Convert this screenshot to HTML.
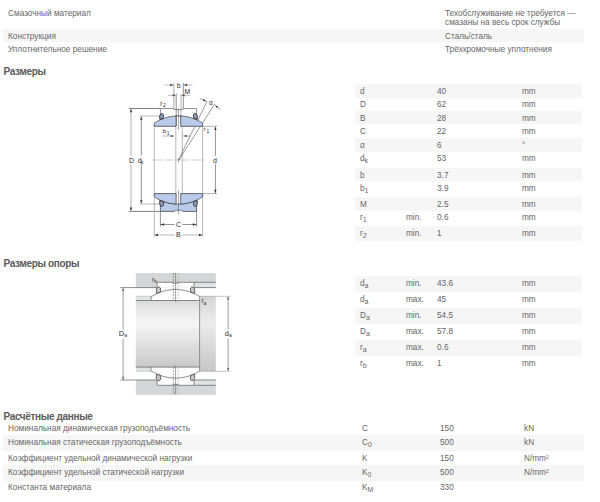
<!DOCTYPE html>
<html><head><meta charset="utf-8"><style>
html,body{margin:0;padding:0;background:#fff;width:600px;height:502px;overflow:hidden;position:relative}
.t{position:absolute;font-family:"Liberation Sans",sans-serif;font-size:8.25px;line-height:10px;color:#666;white-space:nowrap}
.h{position:absolute;font-family:"Liberation Sans",sans-serif;font-size:10px;line-height:10px;font-weight:bold;color:#5a5a5a;white-space:nowrap;letter-spacing:-0.35px}
.t sub{font-size:7px;vertical-align:-2.2px;line-height:0}
.s{position:absolute;background:#f6f6f6}
svg{position:absolute;left:0;top:0}
</style></head><body>
<div class="s" style="left:3px;top:29px;width:581px;height:13px"></div><div class="s" style="left:355px;top:84px;width:227px;height:14px"></div><div class="s" style="left:355px;top:111px;width:227px;height:13px"></div><div class="s" style="left:355px;top:138px;width:227px;height:14px"></div><div class="s" style="left:355px;top:168px;width:227px;height:13px"></div><div class="s" style="left:355px;top:197px;width:227px;height:14px"></div><div class="s" style="left:355px;top:226px;width:227px;height:15px"></div><div class="s" style="left:355px;top:276px;width:227px;height:16px"></div><div class="s" style="left:355px;top:308px;width:227px;height:16px"></div><div class="s" style="left:355px;top:340px;width:227px;height:16px"></div><div class="s" style="left:3px;top:435px;width:581px;height:16px"></div><div class="s" style="left:3px;top:465px;width:581px;height:16px"></div>
<svg width="600" height="502" viewBox="0 0 600 502" style="font-family:'Liberation Sans',sans-serif"><line x1="129.00" y1="108.50" x2="160.40" y2="108.50" stroke="#4a4a4a" stroke-width="0.7" /><line x1="129.00" y1="211.40" x2="160.40" y2="211.40" stroke="#4a4a4a" stroke-width="0.7" /><line x1="131.00" y1="109.00" x2="131.00" y2="210.90" stroke="#aaa" stroke-width="0.9" /><polygon points="131.00,108.90 132.15,112.30 129.85,112.30" fill="#333"/><polygon points="131.00,211.00 129.85,207.60 132.15,207.60" fill="#333"/><line x1="139.50" y1="116.00" x2="160.00" y2="116.00" stroke="#9a9a9a" stroke-width="0.7" /><line x1="139.50" y1="204.00" x2="160.00" y2="204.00" stroke="#9a9a9a" stroke-width="0.7" /><line x1="141.30" y1="116.50" x2="141.30" y2="203.50" stroke="#4a4a4a" stroke-width="0.6" /><polygon points="141.30,116.40 142.45,119.80 140.15,119.80" fill="#333"/><polygon points="141.30,203.60 140.15,200.20 142.45,200.20" fill="#333"/><line x1="154.30" y1="193.60" x2="154.30" y2="237.00" stroke="#9a9a9a" stroke-width="0.7" /><line x1="202.60" y1="193.60" x2="202.60" y2="237.00" stroke="#9a9a9a" stroke-width="0.7" /><line x1="154.30" y1="235.00" x2="202.60" y2="235.00" stroke="#9a9a9a" stroke-width="0.7" /><polygon points="154.60,235.00 158.00,233.85 158.00,236.15" fill="#333"/><polygon points="202.30,235.00 198.90,236.15 198.90,233.85" fill="#333"/><line x1="160.40" y1="211.40" x2="160.40" y2="226.50" stroke="#4a4a4a" stroke-width="0.6" /><line x1="196.60" y1="211.40" x2="196.60" y2="226.50" stroke="#4a4a4a" stroke-width="0.6" /><line x1="160.40" y1="224.50" x2="196.60" y2="224.50" stroke="#4a4a4a" stroke-width="0.6" /><polygon points="160.70,224.50 164.10,223.35 164.10,225.65" fill="#333"/><polygon points="196.30,224.50 192.90,225.65 192.90,223.35" fill="#333"/><line x1="154.30" y1="126.30" x2="154.30" y2="193.60" stroke="#9a9a9a" stroke-width="0.7" /><line x1="202.60" y1="126.30" x2="202.60" y2="193.60" stroke="#9a9a9a" stroke-width="0.7" /><line x1="175.80" y1="126.00" x2="175.80" y2="194.00" stroke="#9a9a9a" stroke-width="0.7" /><line x1="182.30" y1="126.00" x2="182.30" y2="194.00" stroke="#9a9a9a" stroke-width="0.7" /><line x1="203.00" y1="126.30" x2="217.00" y2="126.30" stroke="#999" stroke-width="0.8" /><line x1="203.00" y1="193.60" x2="217.00" y2="193.60" stroke="#999" stroke-width="0.8" /><line x1="215.40" y1="126.80" x2="215.40" y2="193.10" stroke="#4a4a4a" stroke-width="0.6" /><polygon points="215.40,126.70 216.55,130.10 214.25,130.10" fill="#333"/><polygon points="215.40,193.20 214.25,189.80 216.55,189.80" fill="#333"/><line x1="152.00" y1="160.00" x2="206.00" y2="160.00" stroke="#aaa" stroke-width="0.6" stroke-dasharray="9,1.5,1.5,1.5"/><line x1="178.40" y1="158.50" x2="178.40" y2="162.50" stroke="#4a4a4a" stroke-width="0.6" /><line x1="173.90" y1="83.00" x2="173.90" y2="109.00" stroke="#aaa" stroke-width="1.0" /><line x1="183.30" y1="83.00" x2="183.30" y2="108.50" stroke="#4a4a4a" stroke-width="0.6" /><line x1="176.20" y1="93.50" x2="176.20" y2="126.00" stroke="#4a4a4a" stroke-width="0.6" /><line x1="181.00" y1="94.00" x2="181.00" y2="126.00" stroke="#aaa" stroke-width="0.9" /><line x1="164.50" y1="85.00" x2="173.60" y2="85.00" stroke="#aaa" stroke-width="0.8" /><polygon points="173.60,85.00 170.20,86.15 170.20,83.85" fill="#4a4a4a"/><line x1="183.60" y1="85.00" x2="192.50" y2="85.00" stroke="#aaa" stroke-width="0.8" /><polygon points="183.60,85.00 187.00,83.85 187.00,86.15" fill="#4a4a4a"/><line x1="168.00" y1="95.30" x2="173.60" y2="95.30" stroke="#aaa" stroke-width="0.8" /><polygon points="176.00,95.30 172.60,96.45 172.60,94.15" fill="#4a4a4a"/><line x1="183.60" y1="95.30" x2="189.80" y2="95.30" stroke="#aaa" stroke-width="0.8" /><polygon points="181.20,95.30 184.60,94.15 184.60,96.45" fill="#4a4a4a"/><line x1="162.00" y1="136.00" x2="174.00" y2="136.00" stroke="#aaa" stroke-width="0.8" /><polygon points="174.20,136.00 170.60,137.10 170.60,134.90" fill="#4a4a4a"/><line x1="183.20" y1="136.00" x2="191.30" y2="136.00" stroke="#aaa" stroke-width="0.8" /><polygon points="183.20,136.00 186.80,134.90 186.80,137.10" fill="#4a4a4a"/><line x1="178.40" y1="160.00" x2="207.10" y2="101.20" stroke="#4a4a4a" stroke-width="0.55" /><line x1="178.90" y1="160.00" x2="214.30" y2="104.70" stroke="#4a4a4a" stroke-width="0.55" /><line x1="199.60" y1="98.40" x2="206.00" y2="101.40" stroke="#4a4a4a" stroke-width="0.5" /><polygon points="206.00,101.30 202.86,100.93 203.71,99.12" fill="#333"/><line x1="214.00" y1="104.40" x2="220.30" y2="109.50" stroke="#4a4a4a" stroke-width="0.5" /><polygon points="215.30,105.40 218.26,106.51 217.00,108.06" fill="#333"/><path d="M154.3,126.3 L154.3,123.66762937476122 L154.70,122.81 L155.59,122.26 L156.48,121.73 L157.38,121.23 L158.27,120.76 L159.16,120.32 L160.05,119.90 L160.94,119.50 L161.83,119.13 L162.73,118.78 L163.62,118.45 L164.51,118.15 L165.40,117.86 L166.29,117.59 L167.18,117.35 L168.07,117.13 L168.97,116.92 L169.86,116.74 L170.75,116.57 L171.64,116.42 L172.53,116.29 L173.43,116.18 L174.32,116.09 L175.21,116.02 L176.10,115.96 L176.1,126.3 Z" fill="#b8cbea" stroke="#3e3e3e" stroke-width="0.75"/><path d="M180.7,126.3 L180.70,115.96 L181.60,116.02 L182.49,116.09 L183.39,116.18 L184.28,116.29 L185.18,116.42 L186.07,116.57 L186.97,116.74 L187.87,116.93 L188.76,117.13 L189.66,117.36 L190.55,117.61 L191.45,117.88 L192.35,118.16 L193.24,118.47 L194.14,118.80 L195.03,119.16 L195.93,119.53 L196.82,119.93 L197.72,120.36 L198.62,120.81 L199.51,121.28 L200.41,121.78 L201.30,122.31 L202.20,122.87 L202.6,123.73307715580265 L202.6,126.3 Z" fill="#b8cbea" stroke="#3e3e3e" stroke-width="0.75"/><path d="M175.6,115.99 L175.60,115.99 L177.00,115.92 L178.40,115.90 L179.80,115.92 L181.20,115.99" fill="none" stroke="#3e3e3e" stroke-width="0.9"/><path d="M160.4,119.74071535657893 L160.4,108.5 L173.9,108.5 L174.4,109.6 L182.8,109.6 L183.3,108.5 L196.6,108.5 L196.6,119.83073314087" fill="none" stroke="#4a4a4a" stroke-width="0.6"/><path d="M160.4,200.26 L160.40,200.26 L161.31,200.65 L162.21,201.02 L163.12,201.37 L164.02,201.69 L164.93,201.99 L165.83,202.27 L166.74,202.53 L167.64,202.77 L168.55,202.98 L169.45,203.18 L170.35,203.36 L171.26,203.52 L172.16,203.66 L173.07,203.78 L173.97,203.88 L174.88,203.96 L175.78,204.02 L176.69,204.07 L177.59,204.09 L178.50,204.10 L179.41,204.09 L180.31,204.06 L181.22,204.01 L182.12,203.94 L183.03,203.86 L183.93,203.75 L184.84,203.63 L185.74,203.48 L186.65,203.32 L187.55,203.14 L188.45,202.94 L189.36,202.72 L190.26,202.47 L191.17,202.21 L192.07,201.93 L192.98,201.62 L193.88,201.29 L194.79,200.94 L195.69,200.57 L196.60,200.17 L196.6,211.4 L160.4,211.4 Z" fill="#b8cbea" stroke="#3e3e3e" stroke-width="0.75"/><path d="M154.3,193.6 L176.1,193.6 L176.1,204.04 L176.10,204.04 L175.24,203.99 L174.38,203.92 L173.53,203.83 L172.67,203.73 L171.81,203.60 L170.95,203.47 L170.09,203.31 L169.23,203.14 L168.38,202.95 L167.52,202.74 L166.66,202.51 L165.80,202.26 L164.94,202.00 L164.08,201.71 L163.22,201.41 L162.37,201.08 L161.51,200.74 L160.65,200.37 L159.79,199.98 L158.93,199.57 L158.07,199.14 L157.22,198.68 L156.36,198.20 L155.50,197.69 L154.3,196.1 Z" fill="#b8cbea" stroke="#3e3e3e" stroke-width="0.75"/><path d="M180.7,193.6 L202.6,193.6 L202.6,196.1 L201.40,197.63 L200.54,198.14 L199.68,198.63 L198.81,199.09 L197.95,199.53 L197.09,199.94 L196.22,200.34 L195.36,200.71 L194.50,201.06 L193.64,201.38 L192.78,201.69 L191.91,201.98 L191.05,202.25 L190.19,202.50 L189.32,202.73 L188.46,202.94 L187.60,203.13 L186.74,203.30 L185.88,203.46 L185.01,203.60 L184.15,203.72 L183.29,203.83 L182.42,203.92 L181.56,203.99 L180.70,204.04 Z" fill="#b8cbea" stroke="#3e3e3e" stroke-width="0.75"/><rect x="174.5" y="210.4" width="8" height="1.6" fill="#fff"/><path d="M174.3,211.4 L174.8,210.4 L182.0,210.4 L182.5,211.4" fill="none" stroke="#4a4a4a" stroke-width="0.6"/><line x1="178.40" y1="108.50" x2="178.40" y2="130.00" stroke="#4a4a4a" stroke-width="0.5" /><line x1="178.40" y1="190.00" x2="178.40" y2="214.00" stroke="#4a4a4a" stroke-width="0.5" /><path d="M-0.6,10.8 L-0.6,7.0 Q0.3,5.0 1.9,5.0 Q3.2,5.4 3.1,7.7 L2.7,10.2 Z" transform="translate(160.4,108.5) scale(1,1)" fill="#8d9fbd" stroke="#333" stroke-width="0.95"/><path d="M-0.6,10.8 L-0.6,7.0 Q0.3,5.0 1.9,5.0 Q3.2,5.4 3.1,7.7 L2.7,10.2 Z" transform="translate(196.6,108.5) scale(-1,1)" fill="#8d9fbd" stroke="#333" stroke-width="0.95"/><path d="M-0.6,10.8 L-0.6,7.0 Q0.3,5.0 1.9,5.0 Q3.2,5.4 3.1,7.7 L2.7,10.2 Z" transform="translate(160.4,211.4) scale(1,-1)" fill="#8d9fbd" stroke="#333" stroke-width="0.95"/><path d="M-0.6,10.8 L-0.6,7.0 Q0.3,5.0 1.9,5.0 Q3.2,5.4 3.1,7.7 L2.7,10.2 Z" transform="translate(196.6,211.4) scale(-1,-1)" fill="#8d9fbd" stroke="#333" stroke-width="0.95"/><rect x="128.5" y="155.5" width="6" height="8.2" fill="#fff"/><text x="128.90" y="162.60" font-size="7" fill="#2a2a2a">D</text><rect x="137" y="155.6" width="8" height="8.1" fill="#fff"/><text x="137.80" y="162.70" font-size="7" fill="#2a2a2a">d</text><text x="141.00" y="163.80" font-size="4.8" fill="#2a2a2a">k</text><rect x="212.5" y="155.8" width="6" height="8" fill="#fff"/><text x="213.00" y="162.70" font-size="7" fill="#2a2a2a">d</text><rect x="174.5" y="230.5" width="8" height="7.5" fill="#fff"/><text x="176.00" y="236.50" font-size="7" fill="#2a2a2a">B</text><rect x="174.5" y="221" width="8" height="7.5" fill="#fff"/><text x="175.90" y="227.10" font-size="7" fill="#2a2a2a">C</text><text x="176.90" y="87.60" font-size="6.3" fill="#2a2a2a">b</text><text x="184.50" y="93.70" font-size="6.7" fill="#2a2a2a">M</text><text x="160.30" y="105.60" font-size="6.4" fill="#2a2a2a">r</text><text x="162.90" y="107.20" font-size="5.0" fill="#2a2a2a">2</text><text x="162.80" y="132.90" font-size="6.2" fill="#2a2a2a">b</text><text x="166.80" y="134.80" font-size="5.0" fill="#2a2a2a">1</text><text x="209.00" y="104.80" font-size="6.4" fill="#2a2a2a">α</text><text x="203.60" y="130.90" font-size="5.8" fill="#2a2a2a">r</text><text x="206.50" y="132.80" font-size="5.0" fill="#2a2a2a">1</text></svg>
<svg width="600" height="502" viewBox="0 0 600 502" style="font-family:'Liberation Sans',sans-serif"><defs><linearGradient id="sh" gradientUnits="userSpaceOnUse" x1="0" y1="296.3" x2="0" y2="371.3"><stop offset="0.056" stop-color="#d9d9d9"/><stop offset="0.183" stop-color="#e8e8e8"/><stop offset="0.356" stop-color="#f5f5f5"/><stop offset="0.449" stop-color="#efefef"/><stop offset="0.947" stop-color="#c8c8c8"/></linearGradient><linearGradient id="sh2" gradientUnits="userSpaceOnUse" x1="0" y1="296.3" x2="0" y2="371.3"><stop offset="0.000" stop-color="#d4d4d4"/><stop offset="0.183" stop-color="#e0e0e0"/><stop offset="0.356" stop-color="#ececec"/><stop offset="0.449" stop-color="#e6e6e6"/><stop offset="1.000" stop-color="#c6c6c6"/></linearGradient></defs><rect x="135.80" y="273.00" width="80.00" height="14.60" fill="#d5d6d8" /><rect x="157.10" y="282.30" width="36.90" height="5.31" fill="#fff" /><rect x="194.00" y="282.30" width="21.80" height="5.30" fill="#e2e3e4" /><rect x="135.80" y="380.00" width="80.00" height="15.00" fill="#d5d6d8" /><rect x="157.10" y="380.00" width="36.90" height="5.30" fill="#fff" /><rect x="194.00" y="380.00" width="21.80" height="5.30" fill="#e2e3e4" /><rect x="135.80" y="296.30" width="15.40" height="4.20" fill="#e2e3e4" /><rect x="135.80" y="367.10" width="15.40" height="4.20" fill="#e2e3e4" /><rect x="135.80" y="300.50" width="63.80" height="66.60" fill="url(#sh)" /><rect x="199.60" y="296.30" width="16.20" height="75.00" fill="url(#sh2)" /><line x1="120.40" y1="287.60" x2="157.10" y2="287.60" stroke="#5a5a5a" stroke-width="0.7" /><line x1="157.10" y1="287.60" x2="157.10" y2="282.30" stroke="#5a5a5a" stroke-width="0.7" /><line x1="157.10" y1="282.30" x2="215.80" y2="282.30" stroke="#5a5a5a" stroke-width="0.7" /><line x1="194.00" y1="282.30" x2="194.00" y2="287.60" stroke="#5a5a5a" stroke-width="0.7" /><line x1="194.00" y1="287.60" x2="215.80" y2="287.60" stroke="#5a5a5a" stroke-width="0.7" /><line x1="135.80" y1="300.50" x2="199.60" y2="300.50" stroke="#5a5a5a" stroke-width="0.7" /><line x1="135.80" y1="296.30" x2="151.20" y2="296.30" stroke="#aaa" stroke-width="0.5" /><line x1="151.20" y1="300.50" x2="151.20" y2="296.30" stroke="#5a5a5a" stroke-width="0.6" /><line x1="199.60" y1="296.30" x2="215.80" y2="296.30" stroke="#9a9a9a" stroke-width="0.6" /><line x1="215.80" y1="296.30" x2="230.50" y2="296.30" stroke="#9a9a9a" stroke-width="0.6" /><line x1="120.40" y1="380.00" x2="157.10" y2="380.00" stroke="#5a5a5a" stroke-width="0.7" /><line x1="157.10" y1="380.00" x2="157.10" y2="385.30" stroke="#5a5a5a" stroke-width="0.7" /><line x1="157.10" y1="385.30" x2="215.80" y2="385.30" stroke="#5a5a5a" stroke-width="0.7" /><line x1="194.00" y1="385.30" x2="194.00" y2="380.00" stroke="#5a5a5a" stroke-width="0.7" /><line x1="194.00" y1="380.00" x2="215.80" y2="380.00" stroke="#5a5a5a" stroke-width="0.7" /><line x1="135.80" y1="367.10" x2="199.60" y2="367.10" stroke="#5a5a5a" stroke-width="0.7" /><line x1="135.80" y1="371.30" x2="151.20" y2="371.30" stroke="#aaa" stroke-width="0.5" /><line x1="151.20" y1="367.10" x2="151.20" y2="371.30" stroke="#5a5a5a" stroke-width="0.6" /><line x1="199.60" y1="371.30" x2="215.80" y2="371.30" stroke="#9a9a9a" stroke-width="0.6" /><line x1="215.80" y1="371.30" x2="230.50" y2="371.30" stroke="#9a9a9a" stroke-width="0.6" /><path d="M151.2,296.30 L151.80,296.37 L153.37,295.42 L154.95,294.56 L156.52,293.77 L158.09,293.06 L159.67,292.43 L161.24,291.86 L162.81,291.36 L164.39,290.92 L165.96,290.54 L167.53,290.22 L169.11,289.96 L170.68,289.76 L172.25,289.62 L173.83,289.53 L175.40,289.50 L176.97,289.52 L178.55,289.60 L180.12,289.74 L181.69,289.94 L183.27,290.19 L184.84,290.50 L186.41,290.87 L187.99,291.30 L189.56,291.79 L191.13,292.35 L192.71,292.98 L194.28,293.68 L195.85,294.45 L197.43,295.31 L199.00,296.25 L199.6,296.30" fill="none" stroke="#5a5a5a" stroke-width="0.7"/><path d="M151.2,371.30 L151.80,371.23 L153.37,372.18 L154.95,373.04 L156.52,373.83 L158.09,374.54 L159.67,375.17 L161.24,375.74 L162.81,376.24 L164.39,376.68 L165.96,377.06 L167.53,377.38 L169.11,377.64 L170.68,377.84 L172.25,377.98 L173.83,378.07 L175.40,378.10 L176.97,378.08 L178.55,378.00 L180.12,377.86 L181.69,377.66 L183.27,377.41 L184.84,377.10 L186.41,376.73 L187.99,376.30 L189.56,375.81 L191.13,375.25 L192.71,374.62 L194.28,373.92 L195.85,373.15 L197.43,372.29 L199.00,371.35 L199.6,371.30" fill="none" stroke="#5a5a5a" stroke-width="0.7"/><line x1="199.60" y1="296.50" x2="199.60" y2="371.10" stroke="#777" stroke-width="0.8" /><line x1="173.30" y1="273.00" x2="173.30" y2="300.50" stroke="#666" stroke-width="0.6" stroke-dasharray="2,1"/><line x1="173.30" y1="367.10" x2="173.30" y2="394.60" stroke="#666" stroke-width="0.6" stroke-dasharray="2,1"/><line x1="178.30" y1="273.00" x2="178.30" y2="300.50" stroke="#aaa" stroke-width="0.6" stroke-dasharray="2,1"/><line x1="178.30" y1="367.10" x2="178.30" y2="394.60" stroke="#aaa" stroke-width="0.6" stroke-dasharray="2,1"/><line x1="175.60" y1="273.00" x2="175.60" y2="302.00" stroke="#555" stroke-width="0.55" /><line x1="175.60" y1="365.60" x2="175.60" y2="394.60" stroke="#555" stroke-width="0.55" /><rect x="173.2" y="282.30" width="5.2" height="0.9" fill="#d5d6d8"/><path d="M172.6,282.30 L173.4,283.20 L178.0,283.20 L178.8,282.30" fill="none" stroke="#5a5a5a" stroke-width="0.7"/><rect x="173.2" y="384.40" width="5.2" height="0.9" fill="#d5d6d8"/><path d="M172.6,385.30 L173.4,384.40 L178.0,384.40 L178.8,385.30" fill="none" stroke="#5a5a5a" stroke-width="0.7"/><path d="M-0.7,10.9 L-0.7,6.8 Q0.4,4.5 2.2,4.6 Q3.7,5.1 3.6,7.6 L3.1,10.1 Z" transform="translate(157.1,282.3) scale(1,1)" fill="#c8c8c8" stroke="#444" stroke-width="0.8"/><path d="M-0.7,10.9 L-0.7,6.8 Q0.4,4.5 2.2,4.6 Q3.7,5.1 3.6,7.6 L3.1,10.1 Z" transform="translate(194.0,282.3) scale(-1,1)" fill="#c8c8c8" stroke="#444" stroke-width="0.8"/><path d="M-0.7,10.9 L-0.7,6.8 Q0.4,4.5 2.2,4.6 Q3.7,5.1 3.6,7.6 L3.1,10.1 Z" transform="translate(157.1,385.3) scale(1,-1)" fill="#c8c8c8" stroke="#444" stroke-width="0.8"/><path d="M-0.7,10.9 L-0.7,6.8 Q0.4,4.5 2.2,4.6 Q3.7,5.1 3.6,7.6 L3.1,10.1 Z" transform="translate(194.0,385.3) scale(-1,-1)" fill="#c8c8c8" stroke="#444" stroke-width="0.8"/><line x1="123.10" y1="288.00" x2="123.10" y2="379.60" stroke="#5a5a5a" stroke-width="0.6" /><polygon points="123.10,287.90 124.10,290.90 122.10,290.90" fill="#5a5a5a"/><polygon points="123.10,379.70 122.10,376.70 124.10,376.70" fill="#5a5a5a"/><rect x="118.50" y="329.50" width="9.00" height="9.00" fill="#fff" /><text x="118.8" y="335.6" font-size="7.5" fill="#333">D<tspan font-size="5" dy="1.2">a</tspan></text><line x1="228.10" y1="296.70" x2="228.10" y2="370.90" stroke="#5a5a5a" stroke-width="0.6" /><polygon points="228.10,296.60 229.10,299.60 227.10,299.60" fill="#5a5a5a"/><polygon points="228.10,371.00 227.10,368.00 229.10,368.00" fill="#5a5a5a"/><rect x="224.00" y="329.50" width="9.00" height="9.00" fill="#fff" /><text x="224.8" y="335.8" font-size="7.5" fill="#333">d<tspan font-size="5" dy="1.2">a</tspan></text><text x="152" y="281.8" font-size="6.3" fill="#333">r<tspan font-size="5" dy="1.2">b</tspan></text><text x="201.5" y="303.3" font-size="6.3" fill="#333">r<tspan font-size="5" dy="1.2">a</tspan></text></svg>
<div class="t" style="left:8px;top:9px">Смазочный материал</div><div class="t" style="left:445px;top:9px">Техобслуживание не требуется —</div><div class="t" style="left:445px;top:18px">смазаны на весь срок службы</div><div class="t" style="left:8px;top:32px">Конструкция</div><div class="t" style="left:445px;top:32px">Сталь/сталь</div><div class="t" style="left:8px;top:45px">Уплотнительное решение</div><div class="t" style="left:445px;top:45px">Трёхкромочные уплотнения</div><div class="h" style="left:3.5px;top:67px">Размеры</div><div class="h" style="left:3.5px;top:259px">Размеры опоры</div><div class="h" style="left:3.5px;top:412px">Расчётные данные</div><div class="t" style="left:360px;top:87px">d</div><div class="t" style="left:437px;top:87px">40</div><div class="t" style="left:522px;top:87px">mm</div><div class="t" style="left:360px;top:100px">D</div><div class="t" style="left:437px;top:100px">62</div><div class="t" style="left:522px;top:100px">mm</div><div class="t" style="left:360px;top:114px">B</div><div class="t" style="left:437px;top:114px">28</div><div class="t" style="left:522px;top:114px">mm</div><div class="t" style="left:360px;top:127px">C</div><div class="t" style="left:437px;top:127px">22</div><div class="t" style="left:522px;top:127px">mm</div><div class="t" style="left:360px;top:141px">α</div><div class="t" style="left:437px;top:141px">6</div><div class="t" style="left:522px;top:141px">°</div><div class="t" style="left:360px;top:154px">d<sub>k</sub></div><div class="t" style="left:437px;top:154px">53</div><div class="t" style="left:522px;top:154px">mm</div><div class="t" style="left:360px;top:171px">b</div><div class="t" style="left:437px;top:171px">3.7</div><div class="t" style="left:522px;top:171px">mm</div><div class="t" style="left:360px;top:184px">b<sub>1</sub></div><div class="t" style="left:437px;top:184px">3.9</div><div class="t" style="left:522px;top:184px">mm</div><div class="t" style="left:360px;top:200px">M</div><div class="t" style="left:437px;top:200px">2.5</div><div class="t" style="left:522px;top:200px">mm</div><div class="t" style="left:360px;top:213px">r<sub>1</sub></div><div class="t" style="left:406px;top:213px">min.</div><div class="t" style="left:437px;top:213px">0.6</div><div class="t" style="left:522px;top:213px">mm</div><div class="t" style="left:360px;top:229px">r<sub>2</sub></div><div class="t" style="left:406px;top:229px">min.</div><div class="t" style="left:437px;top:229px">1</div><div class="t" style="left:522px;top:229px">mm</div><div class="t" style="left:360px;top:279px">d<sub>a</sub></div><div class="t" style="left:406px;top:279px">min.</div><div class="t" style="left:437px;top:279px">43.6</div><div class="t" style="left:522px;top:279px">mm</div><div class="t" style="left:360px;top:295px">d<sub>a</sub></div><div class="t" style="left:406px;top:295px">max.</div><div class="t" style="left:437px;top:295px">45</div><div class="t" style="left:522px;top:295px">mm</div><div class="t" style="left:360px;top:311px">D<sub>a</sub></div><div class="t" style="left:406px;top:311px">min.</div><div class="t" style="left:437px;top:311px">54.5</div><div class="t" style="left:522px;top:311px">mm</div><div class="t" style="left:360px;top:327px">D<sub>a</sub></div><div class="t" style="left:406px;top:327px">max.</div><div class="t" style="left:437px;top:327px">57.8</div><div class="t" style="left:522px;top:327px">mm</div><div class="t" style="left:360px;top:343px">r<sub>a</sub></div><div class="t" style="left:406px;top:343px">max.</div><div class="t" style="left:437px;top:343px">0.6</div><div class="t" style="left:522px;top:343px">mm</div><div class="t" style="left:360px;top:359px">r<sub>b</sub></div><div class="t" style="left:406px;top:359px">max.</div><div class="t" style="left:437px;top:359px">1</div><div class="t" style="left:522px;top:359px">mm</div><div class="t" style="left:8px;top:424px">Номинальная динамическая грузоподъёмность</div><div class="t" style="left:362px;top:424px">C</div><div class="t" style="left:440px;top:424px">150</div><div class="t" style="left:524px;top:424px">kN</div><div class="t" style="left:8px;top:438px">Номинальная статическая грузоподъёмность</div><div class="t" style="left:362px;top:438px">C<sub>0</sub></div><div class="t" style="left:440px;top:438px">500</div><div class="t" style="left:524px;top:438px">kN</div><div class="t" style="left:8px;top:454px">Коэффициент удельной динамической нагрузки</div><div class="t" style="left:362px;top:454px">K</div><div class="t" style="left:440px;top:454px">150</div><div class="t" style="left:524px;top:454px">N/mm²</div><div class="t" style="left:8px;top:468px">Коэффициент удельной статической нагрузки</div><div class="t" style="left:362px;top:468px">K<sub>0</sub></div><div class="t" style="left:440px;top:468px">500</div><div class="t" style="left:524px;top:468px">N/mm²</div><div class="t" style="left:8px;top:483px">Константа материала</div><div class="t" style="left:362px;top:483px">K<sub>M</sub></div><div class="t" style="left:440px;top:483px">330</div>
</body></html>
